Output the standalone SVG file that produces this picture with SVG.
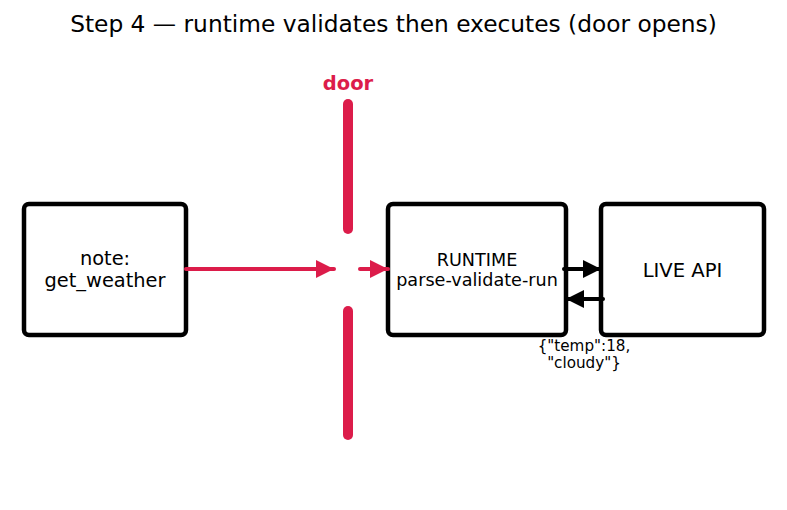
<svg xmlns="http://www.w3.org/2000/svg" width="787" height="510" viewBox="0 0 787 510">
<style>
text{font-family:"DejaVu Sans",sans-serif;fill:#000}
.box{fill:#fff;stroke:#000;stroke-width:4.5}
.red{stroke:#dc1c4a;stroke-width:4;fill:none}
.blk{stroke:#000;stroke-width:4;fill:none}
.door{stroke:#dc1c4a;stroke-width:10;stroke-linecap:round}
</style>
<defs>
<marker id="ar" viewBox="0 0 10 10" refX="10" refY="5" markerWidth="4.6" markerHeight="4.6" markerUnits="strokeWidth" orient="auto"><path d="M0,0L10,5L0,10z" fill="#dc1c4a"/></marker>
<marker id="ab" viewBox="0 0 10 10" refX="10" refY="5" markerWidth="4.6" markerHeight="4.6" markerUnits="strokeWidth" orient="auto"><path d="M0,0L10,5L0,10z" fill="#000"/></marker>
</defs>
<rect width="787" height="510" fill="#fff"/>
<text x="393.5" y="32" font-size="23.3" text-anchor="middle">Step 4 — runtime validates then executes (door opens)</text>
<g id="door">
<text x="348" y="90" font-size="19.5" font-weight="bold" text-anchor="middle" style="fill:#dc1c4a">door</text>
<line class="door" x1="348" y1="104" x2="348" y2="229"/>
<line class="door" x1="348" y1="311" x2="348" y2="435"/>
</g>
<g id="note">
<rect class="box" x="24" y="204" width="162" height="131" rx="5"/>
<text x="105" y="265" font-size="19.4" text-anchor="middle">note:</text>
<text x="105" y="287" font-size="19.4" text-anchor="middle">get_weather</text>
</g>
<g id="runtime">
<rect class="box" x="388" y="204" width="178" height="131" rx="5"/>
<text x="477" y="266" font-size="17.6" text-anchor="middle">RUNTIME</text>
<text x="477" y="286" font-size="17.6" text-anchor="middle">parse-validate-run</text>
</g>
<g id="liveapi">
<rect class="box" x="601" y="204" width="163" height="131" rx="5"/>
<text x="682.5" y="277" font-size="19.6" text-anchor="middle">LIVE API</text>
</g>
<g id="connectors">
<line class="red" x1="186" y1="269" x2="334" y2="269" marker-end="url(#ar)" stroke-linecap="round"/>
<line class="red" x1="360" y1="269" x2="388" y2="269" marker-end="url(#ar)" stroke-linecap="round"/>
<line class="blk" x1="564" y1="269" x2="601" y2="269" marker-end="url(#ab)" stroke-linecap="round"/>
<line class="blk" x1="603" y1="299" x2="566" y2="299" marker-end="url(#ab)" stroke-linecap="round"/>
<text x="584" y="351" font-size="15.2" text-anchor="middle">{"temp":18,</text>
<text x="584" y="368" font-size="15.2" text-anchor="middle">"cloudy"}</text>
</g>
</svg>
